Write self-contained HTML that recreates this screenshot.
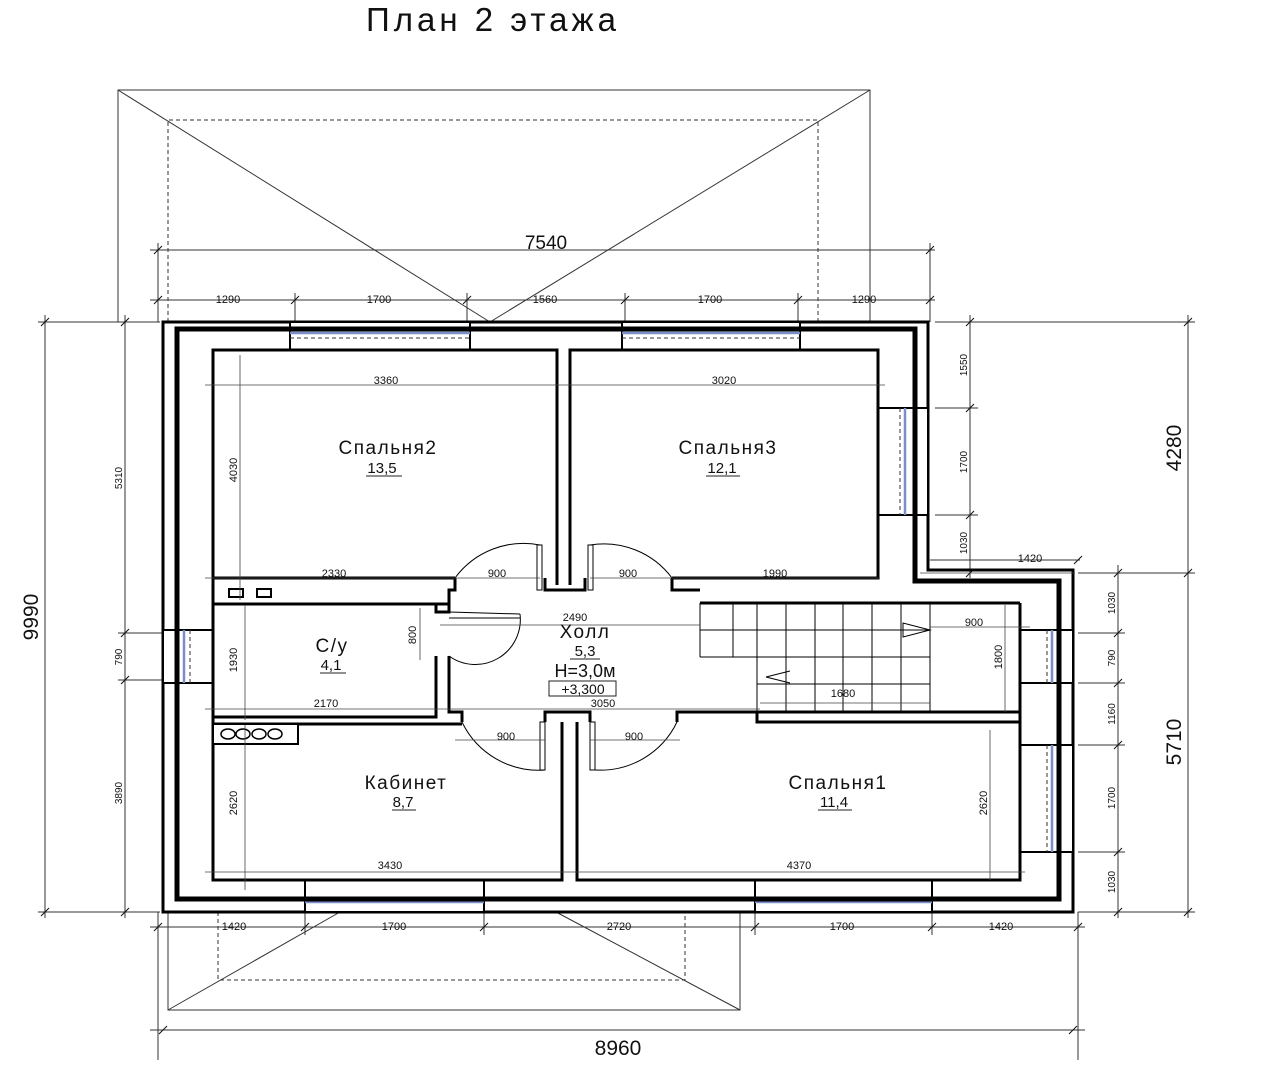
<!DOCTYPE html>
<html><head><meta charset="utf-8"><style>
html,body{margin:0;padding:0;background:#fff;}
svg{display:block;}
text{font-family:"Liberation Sans","DejaVu Sans",sans-serif;fill:#111;}
.d{font-size:11px;}
.r{font-size:19px;letter-spacing:1.5px;}
</style></head><body>
<svg width="1268" height="1080" viewBox="0 0 1268 1080" xmlns="http://www.w3.org/2000/svg">
<text x="493" y="31" font-size="33" letter-spacing="4" text-anchor="middle">План 2 этажа</text>

<g stroke="#333" stroke-width="1" fill="none">
<polyline points="118,322 118,90 870,90 870,322"/>
<line x1="118" y1="90" x2="490" y2="322"/>
<line x1="870" y1="90" x2="490" y2="322"/>
<polyline points="168,322 168,120 818,120 818,322" stroke-dasharray="4,3"/>
<polyline points="168,912 168,1010 740,1010 740,912"/>
<line x1="168" y1="1010" x2="340" y2="912"/>
<line x1="740" y1="1010" x2="556" y2="912"/>
<polyline points="218,912 218,980 685,980 685,912" stroke-dasharray="4,3"/>

<line x1="150" y1="250" x2="935" y2="250"/>
<line x1="158" y1="243" x2="158" y2="322"/><line x1="930" y1="243" x2="930" y2="322"/>
<line x1="150" y1="300" x2="935" y2="300"/>
<line x1="295" y1="293" x2="295" y2="322"/><line x1="467" y1="293" x2="467" y2="322"/>
<line x1="625" y1="293" x2="625" y2="322"/><line x1="798" y1="293" x2="798" y2="322"/>
<line x1="150" y1="927" x2="1085" y2="927"/>
<line x1="158" y1="912" x2="158" y2="1060"/><line x1="1078" y1="912" x2="1078" y2="1060"/>
<line x1="305" y1="912" x2="305" y2="935"/><line x1="484" y1="912" x2="484" y2="935"/>
<line x1="755" y1="912" x2="755" y2="935"/><line x1="932" y1="912" x2="932" y2="935"/>
<line x1="150" y1="1030" x2="1085" y2="1030"/>
<line x1="45" y1="315" x2="45" y2="918"/>
<line x1="38" y1="322" x2="160" y2="322"/><line x1="38" y1="912" x2="160" y2="912"/>
<line x1="125" y1="315" x2="125" y2="918"/>
<line x1="118" y1="633" x2="176" y2="633"/><line x1="118" y1="680" x2="176" y2="680"/>
<line x1="1188" y1="315" x2="1188" y2="918"/>
<line x1="970" y1="315" x2="970" y2="578"/>
<line x1="935" y1="322" x2="1195" y2="322"/>
<line x1="935" y1="408" x2="978" y2="408"/><line x1="935" y1="515" x2="978" y2="515"/>
<line x1="1078" y1="573" x2="1195" y2="573"/>
<line x1="930" y1="560" x2="1080" y2="560"/>
<line x1="1118" y1="565" x2="1118" y2="918"/>
<line x1="1078" y1="633" x2="1125" y2="633"/><line x1="1078" y1="683" x2="1125" y2="683"/>
<line x1="1078" y1="745" x2="1125" y2="745"/><line x1="1078" y1="852" x2="1125" y2="852"/>
<line x1="1078" y1="912" x2="1195" y2="912"/>
</g>
<g stroke="#111" stroke-width="1">
<path d="M154,254 l8,-8 M926,254 l8,-8 M154,304 l8,-8 M291,304 l8,-8 M463,304 l8,-8 M621,304 l8,-8 M794,304 l8,-8 M926,304 l8,-8
M154,931 l8,-8 M301,931 l8,-8 M480,931 l8,-8 M751,931 l8,-8 M928,931 l8,-8 M1074,931 l8,-8 M159,1034 l8,-8 M1069,1034 l8,-8
M41,326 l8,-8 M41,916 l8,-8 M121,326 l8,-8 M121,637 l8,-8 M121,684 l8,-8 M121,916 l8,-8
M1184,326 l8,-8 M1184,577 l8,-8 M1184,916 l8,-8 M966,326 l8,-8 M966,412 l8,-8 M966,519 l8,-8 M966,577 l8,-8 M1074,564 l8,-8
M1114,577 l8,-8 M1114,637 l8,-8 M1114,687 l8,-8 M1114,749 l8,-8 M1114,856 l8,-8 M1114,916 l8,-8"/>
</g>

<g fill="none" stroke="#000">
<polygon points="163,322 928,322 928,570 1073,570 1073,912 163,912" stroke-width="3"/>
<polygon points="177,329 915,329 915,581 1059,581 1059,899 177,899" stroke-width="5"/>
</g>
<g stroke="#000" stroke-width="2" fill="#fff">
<rect x="290" y="322" width="180" height="28"/>
<rect x="622" y="322" width="178" height="28"/>
<rect x="878" y="408" width="50" height="107"/>
<rect x="163" y="630" width="50" height="53"/>
<rect x="1020" y="630" width="53" height="53"/>
<rect x="1020" y="745" width="53" height="107"/>
<rect x="305" y="880" width="179" height="32"/>
<rect x="755" y="880" width="177" height="32"/>
</g>
<g stroke="#7a8fc8" stroke-width="2.5">
<line x1="290" y1="333" x2="470" y2="333"/><line x1="622" y1="333" x2="800" y2="333"/>
<line x1="905" y1="408" x2="905" y2="515"/><line x1="184" y1="630" x2="184" y2="683"/>
<line x1="1052" y1="630" x2="1052" y2="683"/><line x1="1052" y1="745" x2="1052" y2="852"/>
<line x1="305" y1="902" x2="484" y2="902"/><line x1="755" y1="902" x2="932" y2="902"/>
</g>
<g stroke="#333" stroke-width="1" stroke-dasharray="4,3">
<line x1="290" y1="338" x2="470" y2="338"/><line x1="622" y1="338" x2="800" y2="338"/>
<line x1="900" y1="408" x2="900" y2="515"/><line x1="190" y1="630" x2="190" y2="683"/>
<line x1="1047" y1="630" x2="1047" y2="683"/><line x1="1047" y1="745" x2="1047" y2="852"/>
<line x1="305" y1="897" x2="484" y2="897"/><line x1="755" y1="897" x2="932" y2="897"/>
</g>
<g stroke="#000" stroke-width="5" fill="none">
<line x1="177" y1="329" x2="915" y2="329"/><line x1="915" y1="329" x2="915" y2="581"/>
<line x1="177" y1="329" x2="177" y2="899"/><line x1="177" y1="899" x2="1059" y2="899"/>
<line x1="1059" y1="581" x2="1059" y2="899"/>
</g>

<g stroke="#000" stroke-width="3" fill="none">
<polyline points="455,578 213,578 213,350 557,350 557,585"/>
<polyline points="570,585 570,350 878,350 878,578 672,578"/>
<polyline points="213,578 213,880 562,880 562,722"/>
<polyline points="577,722 577,880 1020,880 1020,603"/>
<polyline points="455,578 455,590 449,590 449,604 213,604"/>
<polyline points="672,578 672,590 700,590"/>
<polyline points="545,578 545,590 585,590 585,578"/>
<line x1="700" y1="603" x2="1020" y2="603"/>
<polyline points="436,604 436,612 449,612 449,604"/>
<polyline points="436,656 436,717 213,717"/>
<polyline points="449,656 449,712 462,712 462,722"/>
<line x1="213" y1="724" x2="462" y2="724"/>
<polyline points="545,722 545,712 590,712 590,722"/>
<polyline points="677,722 677,712 757,712 757,722 1020,722"/>
<line x1="757" y1="712" x2="1020" y2="712"/>
</g>
<g stroke="#000" stroke-width="2" fill="#fff">
<rect x="229" y="589" width="14" height="8"/><rect x="257" y="589" width="14" height="8"/>
<rect x="213" y="724" width="85" height="20"/>
</g>
<g stroke="#000" stroke-width="1.5" fill="none">
<ellipse cx="228" cy="734" rx="7" ry="5"/><ellipse cx="243" cy="734" rx="7" ry="5"/><ellipse cx="259" cy="734" rx="7" ry="5"/><ellipse cx="275" cy="734" rx="7" ry="5"/>
</g>
<g stroke="#000" stroke-width="1" fill="none">
<path d="M455,578 A85,85 0 0 1 540,545"/><rect x="537" y="545" width="5" height="45"/>
<path d="M672,578 A85,85 0 0 0 590,545"/><rect x="588" y="545" width="5" height="45"/>
<path d="M462,722 A85,85 0 0 0 545,770"/><rect x="540" y="722" width="5" height="48"/>
<path d="M677,722 A85,85 0 0 1 595,770"/><rect x="590" y="722" width="5" height="48"/>
<path d="M449,612 L520,614 M449,618 L520,618 M520,614 A45,45 0 0 1 449,656"/>
</g>
<g stroke="#000" stroke-width="1" fill="none">
<line x1="700" y1="603" x2="700" y2="657"/><line x1="700" y1="657" x2="930" y2="657"/>
<line x1="700" y1="630" x2="930" y2="630"/>
<line x1="757" y1="684" x2="930" y2="684"/>
<line x1="930" y1="603" x2="930" y2="712"/>
<line x1="733" y1="603" x2="733" y2="657"/><line x1="757" y1="603" x2="757" y2="712"/>
<line x1="786" y1="603" x2="786" y2="712"/><line x1="815" y1="603" x2="815" y2="712"/>
<line x1="843" y1="603" x2="843" y2="712"/><line x1="872" y1="603" x2="872" y2="712"/>
<line x1="901" y1="603" x2="901" y2="712"/>
<path d="M930,630 L903,623 L903,637 Z M766,677 L790,671 M766,677 L790,683"/>
</g>
<g stroke="#444" stroke-width="0.8" fill="none">
<line x1="205" y1="385" x2="565" y2="385"/><line x1="565" y1="385" x2="885" y2="385"/>
<line x1="240" y1="355" x2="240" y2="600"/>
<line x1="205" y1="578" x2="455" y2="578"/><line x1="455" y1="578" x2="540" y2="578"/>
<line x1="590" y1="578" x2="672" y2="578"/><line x1="672" y1="578" x2="880" y2="578"/>
<line x1="420" y1="608" x2="420" y2="660"/>
<line x1="440" y1="625" x2="700" y2="625"/>
<line x1="245" y1="605" x2="245" y2="720"/>
<line x1="205" y1="709" x2="452" y2="709"/><line x1="452" y1="709" x2="760" y2="709"/>
<line x1="930" y1="627" x2="1030" y2="627"/><line x1="1005" y1="605" x2="1005" y2="712"/>
<line x1="760" y1="703" x2="930" y2="703"/>
<line x1="455" y1="740" x2="545" y2="740"/><line x1="590" y1="740" x2="680" y2="740"/>
<line x1="245" y1="725" x2="245" y2="890"/>
<line x1="205" y1="872" x2="570" y2="872"/><line x1="570" y1="872" x2="1025" y2="872"/>
<line x1="990" y1="730" x2="990" y2="880"/>
<line x1="920" y1="573" x2="1075" y2="573"/>
</g>

<g class="d" text-anchor="middle">
<text x="546" y="249" font-size="19">7540</text>
<text x="228" y="303">1290</text><text x="379" y="303">1700</text><text x="545" y="303">1560</text><text x="710" y="303">1700</text><text x="864" y="303">1290</text>
<text x="386" y="384">3360</text><text x="724" y="384">3020</text>
<text x="334" y="577">2330</text><text x="497" y="577">900</text><text x="628" y="577">900</text><text x="775" y="577">1990</text>
<text x="575" y="621">2490</text><text x="974" y="626">900</text><text x="843" y="697">1680</text>
<text x="326" y="707">2170</text><text x="603" y="707">3050</text>
<text x="506" y="740">900</text><text x="634" y="740">900</text>
<text x="390" y="869">3430</text><text x="799" y="869">4370</text>
<text x="234" y="930">1420</text><text x="394" y="930">1700</text><text x="619" y="930">2720</text><text x="842" y="930">1700</text><text x="1001" y="930">1420</text>
<text x="1030" y="562">1420</text>
<text x="618" y="1055" font-size="21">8960</text>
</g>
<g class="d" text-anchor="middle">
<text transform="translate(237,470) rotate(-90)">4030</text>
<text transform="translate(237,660) rotate(-90)">1930</text>
<text transform="translate(237,803) rotate(-90)">2620</text>
<text transform="translate(416,635) rotate(-90)">800</text>
<text transform="translate(1002,657) rotate(-90)">1800</text>
<text transform="translate(987,803) rotate(-90)">2620</text>
<text transform="translate(122,478) rotate(-90)" font-size="10">5310</text>
<text transform="translate(122,657) rotate(-90)" font-size="10">790</text>
<text transform="translate(122,793) rotate(-90)" font-size="10">3890</text>
<text transform="translate(967,365) rotate(-90)" font-size="10">1550</text>
<text transform="translate(967,462) rotate(-90)" font-size="10">1700</text>
<text transform="translate(967,543) rotate(-90)" font-size="10">1030</text>
<text transform="translate(1115,603) rotate(-90)" font-size="10">1030</text>
<text transform="translate(1115,658) rotate(-90)" font-size="10">790</text>
<text transform="translate(1115,714) rotate(-90)" font-size="10">1160</text>
<text transform="translate(1115,798) rotate(-90)" font-size="10">1700</text>
<text transform="translate(1115,882) rotate(-90)" font-size="10">1030</text>
<text transform="translate(38,617) rotate(-90)" font-size="21">9990</text>
<text transform="translate(1181,448) rotate(-90)" font-size="21">4280</text>
<text transform="translate(1181,742) rotate(-90)" font-size="21">5710</text>
</g>
<g text-anchor="middle">
<text x="388" y="454" class="r">Спальня2</text><text x="382" y="473" font-size="15">13,5</text>
<text x="728" y="454" class="r">Спальня3</text><text x="722" y="473" font-size="15">12,1</text>
<text x="332" y="652" class="r">С/у</text><text x="331" y="670" font-size="15">4,1</text>
<text x="585" y="638" class="r">Холл</text><text x="585" y="656" font-size="15">5,3</text>
<text x="585" y="677" font-size="18">Н=3,0м</text><text x="583" y="694" font-size="14">+3,300</text>
<text x="406" y="789" class="r">Кабинет</text><text x="403" y="807" font-size="15">8,7</text>
<text x="838" y="789" class="r">Спальня1</text><text x="834" y="807" font-size="15">11,4</text>
</g>
<g stroke="#222" stroke-width="1">
<line x1="366" y1="476" x2="402" y2="476"/><line x1="706" y1="476" x2="740" y2="476"/>
<line x1="320" y1="673" x2="346" y2="673"/><line x1="570" y1="659" x2="600" y2="659"/>
<line x1="392" y1="810" x2="416" y2="810"/><line x1="818" y1="810" x2="852" y2="810"/>
<rect x="549" y="681" width="67" height="15" fill="none"/>
</g>
</svg>
</body></html>
